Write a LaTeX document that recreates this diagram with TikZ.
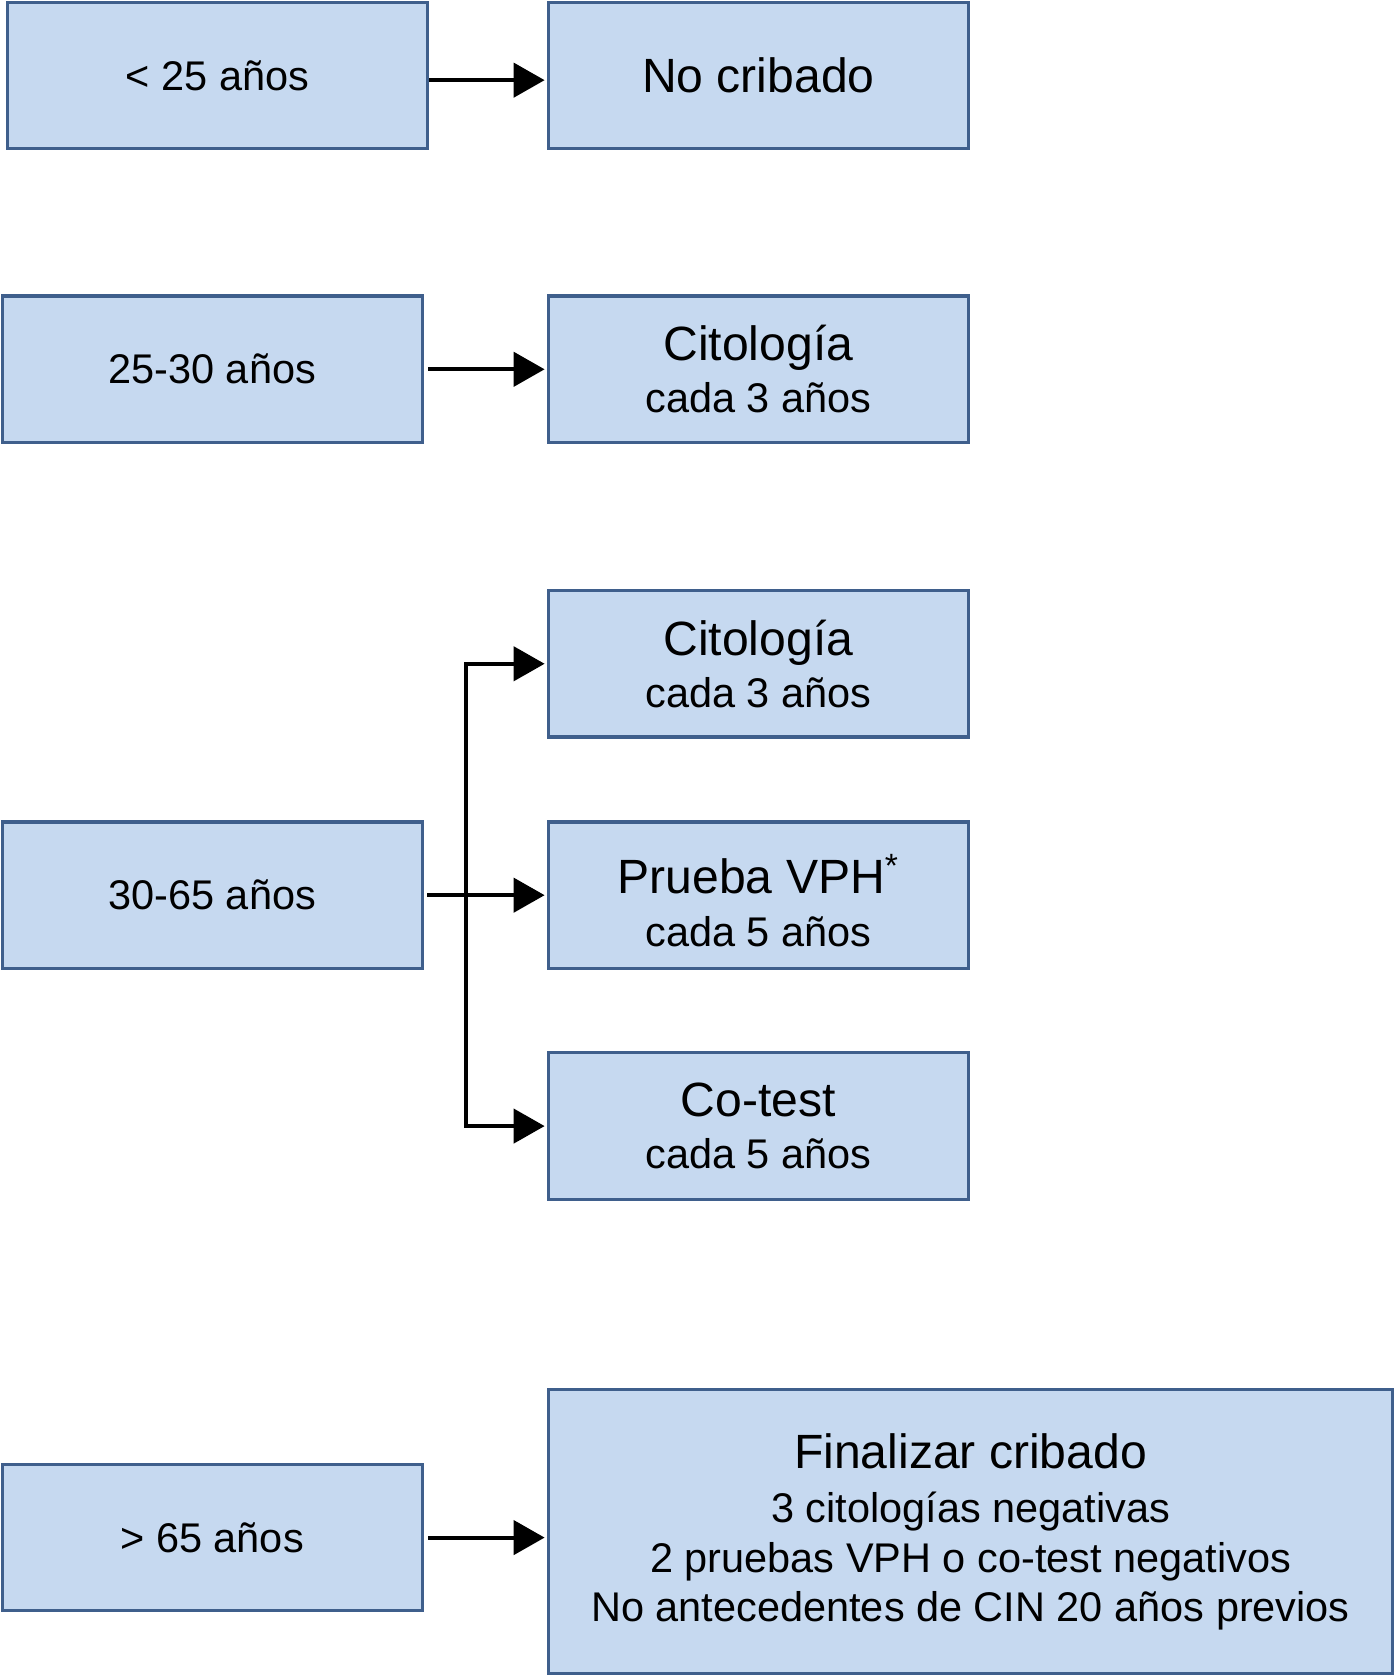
\documentclass[tikz,border=0pt]{standalone}
\usepackage{fontspec}
\setmainfont{Liberation Sans}
\usetikzlibrary{arrows.meta}
\definecolor{boxfill}{HTML}{C6D9F0}
\definecolor{boxline}{HTML}{3F5F8C}
\newcommand{\bigtxt}{\fontsize{22.5}{27}\selectfont}
\tikzset{
  box/.style={draw=boxline, fill=boxfill, line width=1.5pt, minimum width=196.5pt, minimum height=68.5pt,
    inner sep=0pt, align=center, font=\fontsize{19.4}{23}\selectfont},
  conn/.style={line width=1.8pt, -{Triangle[length=14.5pt,width=16pt]}, shorten >=1pt},
  link/.style={line width=1.8pt}
}
\begin{document}
\begin{tikzpicture}[x=0.5pt,y=-0.5pt]
\useasboundingbox (0,0) rectangle (1305,1568);
% row 1
\node[box] (a1) at (203.5,70.5) {< 25 años};
\node[box] (b1) at (709.5,70.5) {\bigtxt No cribado};
% row 2
\node[box] (a2) at (198.5,345.5) {25-30 años};
\node[box] (b2) at (709.5,345.5) {{\bigtxt Citología}\\[1.5pt]cada 3 años};
% row 3
\node[box] (a3) at (198.5,837.5) {30-65 años};
\node[box] (c1) at (709.5,621) {{\bigtxt Citología}\\[1.5pt]cada 3 años};
\node[box] (c2) at (709.5,837.5) {{\bigtxt\rule{0pt}{23.5pt}Prueba VPH\smash{\textsuperscript{*}}}\\[1.5pt]cada 5 años};
\node[box] (c3) at (709.5,1053.5) {{\bigtxt Co-test}\\[1.5pt]cada 5 años};
% row 4
\node[box] (a4) at (198.5,1438.5) {> 65 años};
\node[box, minimum width=395pt, minimum height=133pt] (b4) at (908,1433)
  {{\bigtxt Finalizar cribado}\\[2.5pt]3 citologías negativas\\2 pruebas VPH o co-test negativos\\No antecedentes de CIN 20 años previos};
% connectors
\draw[conn] ([yshift=-2.25pt]a1.east) -- ([yshift=-2.25pt]b1.west);
\draw[conn, shorten <=2pt] (a2.east) -- (b2.west);
\coordinate (j) at (436,837.5);
\draw[link] (j |- c1.west) -- (j |- c3.west);
\draw[conn] ([xshift=-0.9pt]j |- c1.west) -- (c1.west);
\draw[conn, shorten <=1.5pt] (a3.east) -- (c2.west);
\draw[conn] ([xshift=-0.9pt]j |- c3.west) -- (c3.west);
\draw[conn, shorten <=2pt] (a4.east) -- (a4.east -| b4.west);
\end{tikzpicture}
\end{document}
